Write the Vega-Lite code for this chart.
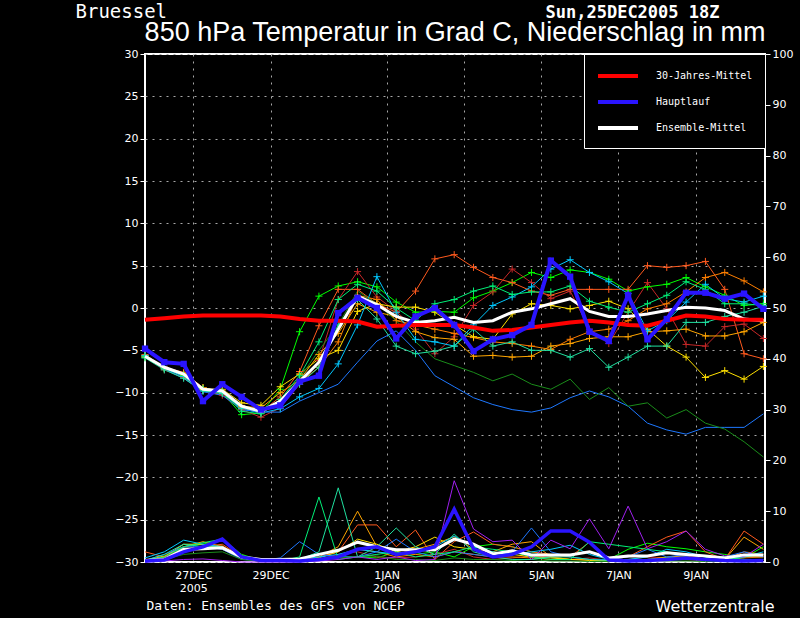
{
  "$schema": "https://vega.github.io/schema/vega-lite/v6.json",
  "width": 620,
  "height": 508,
  "autosize": "none",
  "padding": {"left": 145, "top": 54, "right": 35, "bottom": 56},
  "background": "black",
  "title": {
    "text": "850 hPa Temperatur in Grad C, Niederschlag in mm",
    "anchor": "middle",
    "frame": "group",
    "font": "Liberation Sans",
    "fontSize": 27,
    "fontWeight": "normal",
    "color": "white",
    "baseline": "bottom",
    "offset": 0,
    "dy": 72
  },
  "data": {
    "values": [
      {"s":"30-Jahres-Mittel","h":0,"T":-1.4,"P":null},{"s":"30-Jahres-Mittel","h":12,"T":-1.2,"P":null},{"s":"30-Jahres-Mittel","h":24,"T":-1.0,"P":null},{"s":"30-Jahres-Mittel","h":36,"T":-0.9,"P":null},{"s":"30-Jahres-Mittel","h":48,"T":-0.9,"P":null},{"s":"30-Jahres-Mittel","h":60,"T":-0.9,"P":null},{"s":"30-Jahres-Mittel","h":72,"T":-0.9,"P":null},{"s":"30-Jahres-Mittel","h":84,"T":-1.0,"P":null},{"s":"30-Jahres-Mittel","h":96,"T":-1.3,"P":null},{"s":"30-Jahres-Mittel","h":108,"T":-1.5,"P":null},{"s":"30-Jahres-Mittel","h":120,"T":-1.5,"P":null},{"s":"30-Jahres-Mittel","h":132,"T":-1.6,"P":null},{"s":"30-Jahres-Mittel","h":144,"T":-2.2,"P":null},{"s":"30-Jahres-Mittel","h":156,"T":-2.1,"P":null},{"s":"30-Jahres-Mittel","h":168,"T":-2.0,"P":null},{"s":"30-Jahres-Mittel","h":180,"T":-2.0,"P":null},{"s":"30-Jahres-Mittel","h":192,"T":-2.0,"P":null},{"s":"30-Jahres-Mittel","h":204,"T":-2.3,"P":null},{"s":"30-Jahres-Mittel","h":216,"T":-2.7,"P":null},{"s":"30-Jahres-Mittel","h":228,"T":-2.6,"P":null},{"s":"30-Jahres-Mittel","h":240,"T":-2.3,"P":null},{"s":"30-Jahres-Mittel","h":252,"T":-2.0,"P":null},{"s":"30-Jahres-Mittel","h":264,"T":-1.7,"P":null},{"s":"30-Jahres-Mittel","h":276,"T":-1.5,"P":null},{"s":"30-Jahres-Mittel","h":288,"T":-1.7,"P":null},{"s":"30-Jahres-Mittel","h":300,"T":-2.0,"P":null},{"s":"30-Jahres-Mittel","h":312,"T":-2.1,"P":null},{"s":"30-Jahres-Mittel","h":324,"T":-1.5,"P":null},{"s":"30-Jahres-Mittel","h":336,"T":-0.9,"P":null},{"s":"30-Jahres-Mittel","h":348,"T":-1.0,"P":null},{"s":"30-Jahres-Mittel","h":360,"T":-1.3,"P":null},{"s":"30-Jahres-Mittel","h":372,"T":-1.4,"P":null},{"s":"30-Jahres-Mittel","h":384,"T":-1.4,"P":null},

      {"s":"Ensemble-Mittel","h":0,"T":-5.7,"P":0.3},{"s":"Ensemble-Mittel","h":12,"T":-7.0,"P":0.5},{"s":"Ensemble-Mittel","h":24,"T":-7.8,"P":2.5},{"s":"Ensemble-Mittel","h":36,"T":-9.6,"P":2.6},{"s":"Ensemble-Mittel","h":48,"T":-9.8,"P":2.8},{"s":"Ensemble-Mittel","h":60,"T":-11.6,"P":1.0},{"s":"Ensemble-Mittel","h":72,"T":-12.2,"P":0.5},{"s":"Ensemble-Mittel","h":84,"T":-11.0,"P":0.5},{"s":"Ensemble-Mittel","h":96,"T":-8.7,"P":0.6},{"s":"Ensemble-Mittel","h":108,"T":-6.4,"P":1.5},{"s":"Ensemble-Mittel","h":120,"T":-2.5,"P":2.3},{"s":"Ensemble-Mittel","h":132,"T":1.4,"P":3.9},{"s":"Ensemble-Mittel","h":144,"T":0.4,"P":3.0},{"s":"Ensemble-Mittel","h":156,"T":-1.0,"P":2.4},{"s":"Ensemble-Mittel","h":168,"T":-1.7,"P":2.4},{"s":"Ensemble-Mittel","h":180,"T":-1.5,"P":2.4},{"s":"Ensemble-Mittel","h":192,"T":-1.1,"P":4.5},{"s":"Ensemble-Mittel","h":204,"T":-1.7,"P":3.5},{"s":"Ensemble-Mittel","h":216,"T":-1.5,"P":1.6},{"s":"Ensemble-Mittel","h":228,"T":-0.5,"P":2.2},{"s":"Ensemble-Mittel","h":240,"T":-0.1,"P":1.4},{"s":"Ensemble-Mittel","h":252,"T":0.5,"P":1.4},{"s":"Ensemble-Mittel","h":264,"T":1.1,"P":1.4},{"s":"Ensemble-Mittel","h":276,"T":-0.4,"P":2.0},{"s":"Ensemble-Mittel","h":288,"T":-1.0,"P":0.8},{"s":"Ensemble-Mittel","h":300,"T":-1.0,"P":1.2},{"s":"Ensemble-Mittel","h":312,"T":-0.7,"P":1.2},{"s":"Ensemble-Mittel","h":324,"T":-0.3,"P":1.8},{"s":"Ensemble-Mittel","h":336,"T":0.1,"P":1.5},{"s":"Ensemble-Mittel","h":348,"T":0.0,"P":1.2},{"s":"Ensemble-Mittel","h":360,"T":-0.3,"P":0.8},{"s":"Ensemble-Mittel","h":372,"T":-1.3,"P":1.4},{"s":"Ensemble-Mittel","h":384,"T":-1.5,"P":1.4},

      {"s":"Hauptlauf","h":0,"T":-4.8,"P":0.2},{"s":"Hauptlauf","h":12,"T":-6.4,"P":0.4},{"s":"Hauptlauf","h":24,"T":-6.6,"P":2.0},{"s":"Hauptlauf","h":36,"T":-11.0,"P":3.0},{"s":"Hauptlauf","h":48,"T":-9.0,"P":4.5},{"s":"Hauptlauf","h":60,"T":-10.5,"P":1.0},{"s":"Hauptlauf","h":72,"T":-12.0,"P":0.3},{"s":"Hauptlauf","h":84,"T":-11.5,"P":0.3},{"s":"Hauptlauf","h":96,"T":-8.7,"P":0.2},{"s":"Hauptlauf","h":108,"T":-8.0,"P":0.5},{"s":"Hauptlauf","h":120,"T":-0.6,"P":1.0},{"s":"Hauptlauf","h":132,"T":1.2,"P":2.5},{"s":"Hauptlauf","h":144,"T":0.0,"P":3.0},{"s":"Hauptlauf","h":156,"T":-3.6,"P":1.5},{"s":"Hauptlauf","h":168,"T":-1.0,"P":2.0},{"s":"Hauptlauf","h":180,"T":0.0,"P":3.0},{"s":"Hauptlauf","h":192,"T":-2.0,"P":10.4},{"s":"Hauptlauf","h":204,"T":-5.1,"P":2.6},{"s":"Hauptlauf","h":216,"T":-3.7,"P":1.0},{"s":"Hauptlauf","h":228,"T":-3.2,"P":1.5},{"s":"Hauptlauf","h":240,"T":-2.0,"P":3.0},{"s":"Hauptlauf","h":252,"T":5.6,"P":6.1},{"s":"Hauptlauf","h":264,"T":3.7,"P":6.1},{"s":"Hauptlauf","h":276,"T":-2.8,"P":3.9},{"s":"Hauptlauf","h":288,"T":-3.9,"P":0.4},{"s":"Hauptlauf","h":300,"T":1.5,"P":0.2},{"s":"Hauptlauf","h":312,"T":-3.7,"P":0.3},{"s":"Hauptlauf","h":324,"T":-1.3,"P":0.5},{"s":"Hauptlauf","h":336,"T":1.8,"P":0.8},{"s":"Hauptlauf","h":348,"T":1.8,"P":0.5},{"s":"Hauptlauf","h":360,"T":1.1,"P":0.3},{"s":"Hauptlauf","h":372,"T":1.7,"P":0.2},{"s":"Hauptlauf","h":384,"T":-0.1,"P":0.3},

      {"s":"P01","h":0,"T":-5.8,"P":0.2},{"s":"P01","h":12,"T":-7.2,"P":1.0},{"s":"P01","h":24,"T":-8.0,"P":3.0},{"s":"P01","h":36,"T":-9.4,"P":3.5},{"s":"P01","h":48,"T":-10.0,"P":4.5},{"s":"P01","h":60,"T":-12.6,"P":1.5},{"s":"P01","h":72,"T":-12.4,"P":0.3},{"s":"P01","h":84,"T":-9.6,"P":0.2},{"s":"P01","h":96,"T":-2.8,"P":0.3},{"s":"P01","h":108,"T":1.4,"P":0.5},{"s":"P01","h":120,"T":2.6,"P":1.0},{"s":"P01","h":132,"T":3.1,"P":1.0},{"s":"P01","h":144,"T":2.5,"P":0.8},{"s":"P01","h":156,"T":0.7,"P":2.0},{"s":"P01","h":168,"T":-0.5,"P":1.5},{"s":"P01","h":180,"T":-0.4,"P":2.0},{"s":"P01","h":192,"T":-0.5,"P":1.0},{"s":"P01","h":204,"T":1.2,"P":3.0},{"s":"P01","h":216,"T":2.0,"P":3.5},{"s":"P01","h":228,"T":3.0,"P":3.0},{"s":"P01","h":240,"T":4.2,"P":2.0},{"s":"P01","h":252,"T":3.6,"P":1.0},{"s":"P01","h":264,"T":4.5,"P":0.5},{"s":"P01","h":276,"T":4.2,"P":0.5},{"s":"P01","h":288,"T":3.4,"P":0.5},{"s":"P01","h":300,"T":2.0,"P":2.5},{"s":"P01","h":312,"T":2.5,"P":3.7},{"s":"P01","h":324,"T":2.8,"P":3.0},{"s":"P01","h":336,"T":3.6,"P":2.6},{"s":"P01","h":348,"T":2.5,"P":2.0},{"s":"P01","h":360,"T":1.5,"P":1.5},{"s":"P01","h":372,"T":0.3,"P":0.8},{"s":"P01","h":384,"T":0.5,"P":3.0},

      {"s":"P02","h":0,"T":-5.5,"P":2.0},{"s":"P02","h":12,"T":-7.0,"P":1.0},{"s":"P02","h":24,"T":-7.6,"P":2.5},{"s":"P02","h":36,"T":-9.4,"P":3.0},{"s":"P02","h":48,"T":-10.0,"P":3.5},{"s":"P02","h":60,"T":-11.5,"P":1.0},{"s":"P02","h":72,"T":-12.3,"P":0.2},{"s":"P02","h":84,"T":-10.5,"P":0.2},{"s":"P02","h":96,"T":-7.5,"P":0.3},{"s":"P02","h":108,"T":-2.1,"P":1.0},{"s":"P02","h":120,"T":2.2,"P":2.0},{"s":"P02","h":132,"T":2.2,"P":7.3},{"s":"P02","h":144,"T":0.5,"P":7.3},{"s":"P02","h":156,"T":-0.5,"P":3.0},{"s":"P02","h":168,"T":2.0,"P":6.3},{"s":"P02","h":180,"T":5.8,"P":0.5},{"s":"P02","h":192,"T":6.3,"P":4.0},{"s":"P02","h":204,"T":4.8,"P":5.9},{"s":"P02","h":216,"T":3.6,"P":3.5},{"s":"P02","h":228,"T":3.0,"P":3.0},{"s":"P02","h":240,"T":2.0,"P":2.0},{"s":"P02","h":252,"T":1.5,"P":1.5},{"s":"P02","h":264,"T":2.2,"P":1.0},{"s":"P02","h":276,"T":2.2,"P":3.9},{"s":"P02","h":288,"T":2.2,"P":0.5},{"s":"P02","h":300,"T":2.2,"P":1.0},{"s":"P02","h":312,"T":5.0,"P":3.0},{"s":"P02","h":324,"T":4.8,"P":4.9},{"s":"P02","h":336,"T":5.0,"P":6.1},{"s":"P02","h":348,"T":5.5,"P":2.0},{"s":"P02","h":360,"T":2.2,"P":0.5},{"s":"P02","h":372,"T":-5.4,"P":6.1},{"s":"P02","h":384,"T":-6.0,"P":3.5},

      {"s":"P03","h":0,"T":-5.6,"P":0.5},{"s":"P03","h":12,"T":-7.3,"P":0.8},{"s":"P03","h":24,"T":-8.2,"P":2.5},{"s":"P03","h":36,"T":-9.7,"P":3.0},{"s":"P03","h":48,"T":-10.3,"P":3.0},{"s":"P03","h":60,"T":-12.0,"P":0.8},{"s":"P03","h":72,"T":-12.9,"P":0.2},{"s":"P03","h":84,"T":-11.8,"P":0.1},{"s":"P03","h":96,"T":-9.0,"P":0.2},{"s":"P03","h":108,"T":-6.2,"P":0.5},{"s":"P03","h":120,"T":1.0,"P":1.5},{"s":"P03","h":132,"T":4.3,"P":2.0},{"s":"P03","h":144,"T":1.3,"P":1.0},{"s":"P03","h":156,"T":-0.4,"P":0.8},{"s":"P03","h":168,"T":-2.5,"P":1.0},{"s":"P03","h":180,"T":-5.4,"P":1.5},{"s":"P03","h":192,"T":-3.4,"P":2.5},{"s":"P03","h":204,"T":0.3,"P":1.0},{"s":"P03","h":216,"T":1.9,"P":0.5},{"s":"P03","h":228,"T":4.6,"P":0.8},{"s":"P03","h":240,"T":3.0,"P":1.2},{"s":"P03","h":252,"T":1.1,"P":1.0},{"s":"P03","h":264,"T":2.0,"P":0.5},{"s":"P03","h":276,"T":-2.5,"P":0.8},{"s":"P03","h":288,"T":-4.2,"P":0.3},{"s":"P03","h":300,"T":-0.5,"P":0.5},{"s":"P03","h":312,"T":3.0,"P":1.0},{"s":"P03","h":324,"T":-0.1,"P":0.8},{"s":"P03","h":336,"T":-4.3,"P":1.5},{"s":"P03","h":348,"T":-4.5,"P":0.5},{"s":"P03","h":360,"T":-2.2,"P":0.3},{"s":"P03","h":372,"T":-1.9,"P":0.8},{"s":"P03","h":384,"T":-3.6,"P":1.0},

      {"s":"P04","h":0,"T":-5.6,"P":0.3},{"s":"P04","h":12,"T":-7.1,"P":1.2},{"s":"P04","h":24,"T":-7.9,"P":3.0},{"s":"P04","h":36,"T":-9.5,"P":4.0},{"s":"P04","h":48,"T":-9.8,"P":3.0},{"s":"P04","h":60,"T":-11.6,"P":1.0},{"s":"P04","h":72,"T":-11.8,"P":0.2},{"s":"P04","h":84,"T":-10.0,"P":0.2},{"s":"P04","h":96,"T":-8.5,"P":0.3},{"s":"P04","h":108,"T":-5.5,"P":1.0},{"s":"P04","h":120,"T":-3.0,"P":3.0},{"s":"P04","h":132,"T":0.5,"P":10.0},{"s":"P04","h":144,"T":-0.5,"P":3.0},{"s":"P04","h":156,"T":-1.0,"P":1.5},{"s":"P04","h":168,"T":-2.8,"P":2.5},{"s":"P04","h":180,"T":-3.5,"P":3.5},{"s":"P04","h":192,"T":-3.7,"P":5.0},{"s":"P04","h":204,"T":-5.7,"P":2.5},{"s":"P04","h":216,"T":-5.6,"P":2.0},{"s":"P04","h":228,"T":-5.8,"P":3.5},{"s":"P04","h":240,"T":-5.7,"P":4.0},{"s":"P04","h":252,"T":-4.5,"P":1.0},{"s":"P04","h":264,"T":-4.2,"P":0.5},{"s":"P04","h":276,"T":-3.6,"P":0.5},{"s":"P04","h":288,"T":-3.4,"P":0.2},{"s":"P04","h":300,"T":-3.4,"P":0.3},{"s":"P04","h":312,"T":-2.8,"P":0.5},{"s":"P04","h":324,"T":-2.7,"P":1.0},{"s":"P04","h":336,"T":-2.5,"P":1.2},{"s":"P04","h":348,"T":-3.3,"P":0.5},{"s":"P04","h":360,"T":-3.3,"P":0.5},{"s":"P04","h":372,"T":-2.8,"P":4.9},{"s":"P04","h":384,"T":-1.7,"P":2.5},

      {"s":"P05","h":0,"T":-5.7,"P":0.2},{"s":"P05","h":12,"T":-7.0,"P":0.6},{"s":"P05","h":24,"T":-7.7,"P":2.2},{"s":"P05","h":36,"T":-9.4,"P":2.8},{"s":"P05","h":48,"T":-9.9,"P":3.2},{"s":"P05","h":60,"T":-11.8,"P":0.8},{"s":"P05","h":72,"T":-12.4,"P":0.1},{"s":"P05","h":84,"T":-11.2,"P":0.1},{"s":"P05","h":96,"T":-8.8,"P":0.2},{"s":"P05","h":108,"T":-7.0,"P":0.5},{"s":"P05","h":120,"T":-4.0,"P":1.2},{"s":"P05","h":132,"T":1.5,"P":2.5},{"s":"P05","h":144,"T":1.0,"P":2.0},{"s":"P05","h":156,"T":-1.5,"P":1.0},{"s":"P05","h":168,"T":-2.0,"P":1.5},{"s":"P05","h":180,"T":-2.5,"P":1.0},{"s":"P05","h":192,"T":-3.0,"P":2.0},{"s":"P05","h":204,"T":-3.5,"P":1.5},{"s":"P05","h":216,"T":-4.0,"P":1.0},{"s":"P05","h":228,"T":-4.2,"P":1.0},{"s":"P05","h":240,"T":-4.5,"P":0.8},{"s":"P05","h":252,"T":-4.9,"P":0.5},{"s":"P05","h":264,"T":-3.7,"P":0.5},{"s":"P05","h":276,"T":-2.8,"P":0.5},{"s":"P05","h":288,"T":-2.5,"P":0.2},{"s":"P05","h":300,"T":-1.5,"P":0.3},{"s":"P05","h":312,"T":-0.1,"P":0.3},{"s":"P05","h":324,"T":0.5,"P":0.5},{"s":"P05","h":336,"T":1.9,"P":0.5},{"s":"P05","h":348,"T":3.6,"P":0.3},{"s":"P05","h":360,"T":4.2,"P":0.5},{"s":"P05","h":372,"T":3.2,"P":2.0},{"s":"P05","h":384,"T":1.9,"P":1.5},

      {"s":"P06","h":0,"T":-5.8,"P":0.3},{"s":"P06","h":12,"T":-7.1,"P":1.0},{"s":"P06","h":24,"T":-7.8,"P":3.5},{"s":"P06","h":36,"T":-9.6,"P":3.5},{"s":"P06","h":48,"T":-9.6,"P":2.5},{"s":"P06","h":60,"T":-11.2,"P":0.8},{"s":"P06","h":72,"T":-11.5,"P":0.2},{"s":"P06","h":84,"T":-9.3,"P":0.1},{"s":"P06","h":96,"T":-7.8,"P":0.3},{"s":"P06","h":108,"T":-6.0,"P":0.8},{"s":"P06","h":120,"T":-5.0,"P":2.0},{"s":"P06","h":132,"T":-0.4,"P":4.5},{"s":"P06","h":144,"T":0.5,"P":3.5},{"s":"P06","h":156,"T":0.1,"P":2.0},{"s":"P06","h":168,"T":0.1,"P":3.0},{"s":"P06","h":180,"T":-0.5,"P":4.9},{"s":"P06","h":192,"T":-2.0,"P":3.0},{"s":"P06","h":204,"T":-3.4,"P":2.5},{"s":"P06","h":216,"T":-3.7,"P":2.0},{"s":"P06","h":228,"T":-0.7,"P":1.5},{"s":"P06","h":240,"T":0.5,"P":1.0},{"s":"P06","h":252,"T":0.3,"P":0.8},{"s":"P06","h":264,"T":-0.1,"P":0.5},{"s":"P06","h":276,"T":0.3,"P":0.3},{"s":"P06","h":288,"T":0.8,"P":0.2},{"s":"P06","h":300,"T":-0.1,"P":0.3},{"s":"P06","h":312,"T":-2.5,"P":0.5},{"s":"P06","h":324,"T":-4.5,"P":0.5},{"s":"P06","h":336,"T":-5.8,"P":1.0},{"s":"P06","h":348,"T":-8.2,"P":0.5},{"s":"P06","h":360,"T":-7.4,"P":0.3},{"s":"P06","h":372,"T":-8.4,"P":1.0},{"s":"P06","h":384,"T":-6.9,"P":1.0},

      {"s":"P07","h":0,"T":-5.6,"P":0.8},{"s":"P07","h":12,"T":-7.1,"P":2.0},{"s":"P07","h":24,"T":-8.1,"P":4.3},{"s":"P07","h":36,"T":-9.8,"P":3.5},{"s":"P07","h":48,"T":-10.0,"P":3.0},{"s":"P07","h":60,"T":-11.9,"P":1.0},{"s":"P07","h":72,"T":-12.4,"P":0.3},{"s":"P07","h":84,"T":-11.9,"P":0.2},{"s":"P07","h":96,"T":-10.5,"P":0.5},{"s":"P07","h":108,"T":-9.5,"P":1.0},{"s":"P07","h":120,"T":-6.6,"P":1.5},{"s":"P07","h":132,"T":-2.0,"P":2.5},{"s":"P07","h":144,"T":3.7,"P":2.0},{"s":"P07","h":156,"T":-0.5,"P":1.5},{"s":"P07","h":168,"T":-3.7,"P":2.0},{"s":"P07","h":180,"T":-4.0,"P":3.0},{"s":"P07","h":192,"T":-4.5,"P":5.1},{"s":"P07","h":204,"T":-2.0,"P":3.0},{"s":"P07","h":216,"T":0.3,"P":2.0},{"s":"P07","h":228,"T":1.3,"P":1.5},{"s":"P07","h":240,"T":2.5,"P":2.0},{"s":"P07","h":252,"T":4.6,"P":2.5},{"s":"P07","h":264,"T":5.7,"P":3.3},{"s":"P07","h":276,"T":4.2,"P":1.5},{"s":"P07","h":288,"T":3.1,"P":0.5},{"s":"P07","h":300,"T":1.7,"P":0.5},{"s":"P07","h":312,"T":-2.7,"P":1.0},{"s":"P07","h":324,"T":-1.5,"P":2.5},{"s":"P07","h":336,"T":0.7,"P":2.0},{"s":"P07","h":348,"T":2.8,"P":1.0},{"s":"P07","h":360,"T":1.1,"P":0.8},{"s":"P07","h":372,"T":0.7,"P":1.0},{"s":"P07","h":384,"T":1.4,"P":2.0},

      {"s":"P08","h":0,"T":-5.7,"P":0.3},{"s":"P08","h":12,"T":-7.2,"P":1.5},{"s":"P08","h":24,"T":-8.3,"P":3.0},{"s":"P08","h":36,"T":-9.9,"P":3.0},{"s":"P08","h":48,"T":-10.3,"P":2.5},{"s":"P08","h":60,"T":-12.0,"P":0.5},{"s":"P08","h":72,"T":-12.3,"P":0.3},{"s":"P08","h":84,"T":-12.3,"P":0.8},{"s":"P08","h":96,"T":-11.0,"P":4.0},{"s":"P08","h":108,"T":-10.0,"P":1.5},{"s":"P08","h":120,"T":-9.0,"P":1.0},{"s":"P08","h":132,"T":-6.4,"P":1.0},{"s":"P08","h":144,"T":-3.9,"P":2.0},{"s":"P08","h":156,"T":-2.7,"P":4.5},{"s":"P08","h":168,"T":-5.0,"P":2.0},{"s":"P08","h":180,"T":-8.0,"P":1.0},{"s":"P08","h":192,"T":-9.3,"P":2.0},{"s":"P08","h":204,"T":-10.6,"P":1.5},{"s":"P08","h":216,"T":-11.4,"P":1.0},{"s":"P08","h":228,"T":-12.0,"P":2.0},{"s":"P08","h":240,"T":-12.3,"P":6.7},{"s":"P08","h":252,"T":-11.8,"P":2.0},{"s":"P08","h":264,"T":-10.6,"P":1.0},{"s":"P08","h":276,"T":-9.8,"P":0.5},{"s":"P08","h":288,"T":-10.5,"P":0.5},{"s":"P08","h":300,"T":-11.6,"P":1.0},{"s":"P08","h":312,"T":-13.6,"P":2.5},{"s":"P08","h":324,"T":-14.4,"P":1.0},{"s":"P08","h":336,"T":-14.9,"P":1.5},{"s":"P08","h":348,"T":-14.1,"P":1.0},{"s":"P08","h":360,"T":-14.1,"P":1.0},{"s":"P08","h":372,"T":-14.1,"P":2.0},{"s":"P08","h":384,"T":-12.5,"P":1.0},

      {"s":"P09","h":0,"T":-5.6,"P":0.1},{"s":"P09","h":12,"T":-7.0,"P":0.5},{"s":"P09","h":24,"T":-7.8,"P":1.5},{"s":"P09","h":36,"T":-9.7,"P":1.8},{"s":"P09","h":48,"T":-9.9,"P":2.0},{"s":"P09","h":60,"T":-11.7,"P":0.5},{"s":"P09","h":72,"T":-12.0,"P":0.1},{"s":"P09","h":84,"T":-11.0,"P":0.1},{"s":"P09","h":96,"T":-8.3,"P":0.2},{"s":"P09","h":108,"T":-5.0,"P":0.5},{"s":"P09","h":120,"T":-2.0,"P":0.8},{"s":"P09","h":132,"T":2.0,"P":1.0},{"s":"P09","h":144,"T":0.5,"P":1.2},{"s":"P09","h":156,"T":-1.5,"P":0.5},{"s":"P09","h":168,"T":-4.0,"P":0.5},{"s":"P09","h":180,"T":-6.0,"P":0.3},{"s":"P09","h":192,"T":-6.8,"P":0.8},{"s":"P09","h":204,"T":-7.6,"P":0.5},{"s":"P09","h":216,"T":-8.6,"P":0.5},{"s":"P09","h":228,"T":-7.8,"P":0.3},{"s":"P09","h":240,"T":-9.0,"P":0.5},{"s":"P09","h":252,"T":-9.6,"P":0.2},{"s":"P09","h":264,"T":-8.4,"P":0.2},{"s":"P09","h":276,"T":-10.8,"P":0.1},{"s":"P09","h":288,"T":-9.4,"P":0.1},{"s":"P09","h":300,"T":-11.6,"P":0.2},{"s":"P09","h":312,"T":-11.2,"P":0.3},{"s":"P09","h":324,"T":-13.0,"P":0.2},{"s":"P09","h":336,"T":-12.0,"P":0.2},{"s":"P09","h":348,"T":-13.6,"P":0.1},{"s":"P09","h":360,"T":-14.3,"P":0.1},{"s":"P09","h":372,"T":-15.8,"P":0.3},{"s":"P09","h":384,"T":-17.6,"P":0.5},

      {"s":"P10","h":0,"T":-5.7,"P":0.2},{"s":"P10","h":12,"T":-7.1,"P":1.0},{"s":"P10","h":24,"T":-7.9,"P":3.0},{"s":"P10","h":36,"T":-9.5,"P":3.8},{"s":"P10","h":48,"T":-9.9,"P":4.5},{"s":"P10","h":60,"T":-12.2,"P":1.2},{"s":"P10","h":72,"T":-12.5,"P":0.2},{"s":"P10","h":84,"T":-10.8,"P":0.2},{"s":"P10","h":96,"T":-8.0,"P":1.0},{"s":"P10","h":108,"T":-4.0,"P":12.8},{"s":"P10","h":120,"T":1.0,"P":0.5},{"s":"P10","h":132,"T":2.8,"P":1.0},{"s":"P10","h":144,"T":2.0,"P":1.5},{"s":"P10","h":156,"T":0.0,"P":2.0},{"s":"P10","h":168,"T":-1.5,"P":1.0},{"s":"P10","h":180,"T":0.5,"P":1.5},{"s":"P10","h":192,"T":1.0,"P":2.0},{"s":"P10","h":204,"T":2.0,"P":3.0},{"s":"P10","h":216,"T":2.6,"P":2.5},{"s":"P10","h":228,"T":1.6,"P":2.0},{"s":"P10","h":240,"T":1.9,"P":1.0},{"s":"P10","h":252,"T":1.9,"P":0.5},{"s":"P10","h":264,"T":2.6,"P":0.5},{"s":"P10","h":276,"T":0.8,"P":4.0},{"s":"P10","h":288,"T":0.1,"P":3.5},{"s":"P10","h":300,"T":-0.5,"P":3.0},{"s":"P10","h":312,"T":0.5,"P":2.5},{"s":"P10","h":324,"T":1.5,"P":2.0},{"s":"P10","h":336,"T":3.1,"P":1.5},{"s":"P10","h":348,"T":2.2,"P":1.0},{"s":"P10","h":360,"T":0.5,"P":1.0},{"s":"P10","h":372,"T":0.5,"P":0.5},{"s":"P10","h":384,"T":0.3,"P":0.5},

      {"s":"P11","h":0,"T":-5.9,"P":0.3},{"s":"P11","h":12,"T":-7.3,"P":1.5},{"s":"P11","h":24,"T":-8.3,"P":3.5},{"s":"P11","h":36,"T":-9.8,"P":3.0},{"s":"P11","h":48,"T":-10.1,"P":3.0},{"s":"P11","h":60,"T":-11.8,"P":0.8},{"s":"P11","h":72,"T":-12.2,"P":0.2},{"s":"P11","h":84,"T":-11.3,"P":0.2},{"s":"P11","h":96,"T":-9.0,"P":0.5},{"s":"P11","h":108,"T":-7.0,"P":2.0},{"s":"P11","h":120,"T":-2.0,"P":14.6},{"s":"P11","h":132,"T":1.0,"P":1.0},{"s":"P11","h":144,"T":-1.3,"P":3.0},{"s":"P11","h":156,"T":-4.5,"P":6.7},{"s":"P11","h":168,"T":-5.4,"P":3.0},{"s":"P11","h":180,"T":-5.1,"P":1.5},{"s":"P11","h":192,"T":-4.5,"P":5.5},{"s":"P11","h":204,"T":-2.5,"P":2.0},{"s":"P11","h":216,"T":-4.5,"P":1.0},{"s":"P11","h":228,"T":-4.0,"P":0.5},{"s":"P11","h":240,"T":-5.0,"P":0.5},{"s":"P11","h":252,"T":-5.0,"P":1.0},{"s":"P11","h":264,"T":-5.8,"P":1.0},{"s":"P11","h":276,"T":-4.8,"P":0.5},{"s":"P11","h":288,"T":-7.0,"P":0.3},{"s":"P11","h":300,"T":-5.8,"P":0.5},{"s":"P11","h":312,"T":-4.5,"P":0.5},{"s":"P11","h":324,"T":-4.5,"P":0.8},{"s":"P11","h":336,"T":-1.7,"P":1.0},{"s":"P11","h":348,"T":-1.7,"P":0.5},{"s":"P11","h":360,"T":-1.0,"P":0.5},{"s":"P11","h":372,"T":-0.5,"P":1.0},{"s":"P11","h":384,"T":0.2,"P":1.5},

      {"s":"P12","h":0,"T":null,"P":0.0},{"s":"P12","h":12,"T":null,"P":0.2},{"s":"P12","h":24,"T":null,"P":0.5},{"s":"P12","h":36,"T":null,"P":0.6},{"s":"P12","h":48,"T":null,"P":0.3},{"s":"P12","h":60,"T":null,"P":0.0},{"s":"P12","h":72,"T":null,"P":0.0},{"s":"P12","h":84,"T":null,"P":0.0},{"s":"P12","h":96,"T":null,"P":0.0},{"s":"P12","h":108,"T":null,"P":0.2},{"s":"P12","h":120,"T":null,"P":0.5},{"s":"P12","h":132,"T":null,"P":1.0},{"s":"P12","h":144,"T":null,"P":0.5},{"s":"P12","h":156,"T":null,"P":1.0},{"s":"P12","h":168,"T":null,"P":0.3},{"s":"P12","h":180,"T":null,"P":0.5},{"s":"P12","h":192,"T":null,"P":16.0},{"s":"P12","h":204,"T":null,"P":6.5},{"s":"P12","h":216,"T":null,"P":4.0},{"s":"P12","h":228,"T":null,"P":4.3},{"s":"P12","h":240,"T":null,"P":0.5},{"s":"P12","h":252,"T":null,"P":4.3},{"s":"P12","h":264,"T":null,"P":2.6},{"s":"P12","h":276,"T":null,"P":8.5},{"s":"P12","h":288,"T":null,"P":2.6},{"s":"P12","h":300,"T":null,"P":11.0},{"s":"P12","h":312,"T":null,"P":2.6},{"s":"P12","h":324,"T":null,"P":4.0},{"s":"P12","h":336,"T":null,"P":6.1},{"s":"P12","h":348,"T":null,"P":2.5},{"s":"P12","h":360,"T":null,"P":1.2},{"s":"P12","h":372,"T":null,"P":1.0},{"s":"P12","h":384,"T":null,"P":3.5}
    ]
  },
  "layer": [
    {
      "transform": [{"filter": "isValid(datum.T)"}],
      "encoding": {
        "x": {
          "field": "h",
          "type": "quantitative",
          "scale": {"domain": [0, 385], "nice": false},
          "axis": {
            "values": [30, 78, 150, 198, 246, 294, 342],
            "labelExpr": "(datum.value == 30 || datum.value == 150) ? [upper(utcFormat(utc(2005,11,25,18) + datum.value * 3600000, '%-d%b')), utcFormat(utc(2005,11,25,18) + datum.value * 3600000, '%Y')] : upper(utcFormat(utc(2005,11,25,18) + datum.value * 3600000, '%-d%b'))",
            "grid": true,
            "ticks": false,
            "domain": false,
            "labelPadding": 7,
            "labelLineHeight": 13,
            "title": "Daten: Ensembles des GFS von NCEP",
            "titleFont": "DejaVu Sans Mono",
            "titleX": 1,
            "titleY": 37,
            "titleAlign": "left",
            "titleBaseline": "top",
            "titleFontSize": 13
          }
        },
        "y": {
          "field": "T",
          "type": "quantitative",
          "scale": {"domain": [-30, 30], "nice": false},
          "axis": {
            "orient": "left",
            "values": [-30, -25, -20, -15, -10, -5, 0, 5, 10, 15, 20, 25, 30],
            "grid": true,
            "title": "Bruessel",
            "titleFont": "DejaVu Sans Mono",
            "titleAngle": 0,
            "titleX": -70,
            "titleY": -52,
            "titleAlign": "left",
            "titleBaseline": "top",
            "titleFontSize": 19
          }
        },
        "color": {
          "field": "s",
          "type": "nominal",
          "scale": {
            "domain": ["30-Jahres-Mittel", "Hauptlauf", "Ensemble-Mittel", "P01", "P02", "P03", "P04", "P05", "P06", "P07", "P08", "P09", "P10", "P11", "P12"],
            "range": ["#ff0000", "#2a14ff", "#ffffff", "#00ff00", "#ff5a1e", "#c82828", "#ffa500", "#ff7f00", "#ffe000", "#00c8ff", "#1e78ff", "#1a8c1a", "#00f078", "#20e0a0", "#a020f0"]
          },
          "legend": {
            "values": ["30-Jahres-Mittel", "Hauptlauf", "Ensemble-Mittel"],
            "title": null,
            "orient": "top-right",
            "offset": 0,
            "padding": 12,
            "rowPadding": 8,
            "fillColor": "black",
            "strokeColor": "white",
            "symbolType": "M-1,0H4",
            "symbolSize": 256,
            "symbolStrokeWidth": 4,
            "symbolOpacity": 1,
            "labelOffset": 40,
            "labelColor": "white",
            "labelFont": "DejaVu Sans Mono",
            "labelFontSize": 10
          }
        }
      },
      "layer": [
        {
          "transform": [{"filter": "indexof(datum.s, 'P') == 0"}],
          "mark": {"type": "line", "strokeWidth": 1}
        },
        {
          "transform": [{"filter": "indexof(datum.s, 'P') == 0 && datum.s != 'P08' && datum.s != 'P09'"}],
          "mark": {"type": "point", "shape": "M-1,0H1M0,-1V1", "filled": false, "size": 50, "strokeWidth": 1, "opacity": 1}
        },
        {
          "transform": [{"filter": "datum.s == 'Ensemble-Mittel'"}],
          "mark": {"type": "line", "strokeWidth": 3}
        },
        {
          "transform": [{"filter": "datum.s == '30-Jahres-Mittel'"}],
          "mark": {"type": "line", "strokeWidth": 4}
        },
        {
          "transform": [{"filter": "datum.s == 'Hauptlauf'"}],
          "mark": {"type": "line", "strokeWidth": 4}
        },
        {
          "transform": [{"filter": "datum.s == 'Hauptlauf'"}],
          "mark": {"type": "square", "size": 40, "filled": true, "opacity": 1}
        }
      ]
    },
    {
      "transform": [{"filter": "isValid(datum.P)"}],
      "encoding": {
        "x": {
          "field": "h",
          "type": "quantitative",
          "scale": {"domain": [0, 385], "nice": false},
          "axis": {
            "orient": "bottom",
            "labels": false,
            "ticks": false,
            "domain": false,
            "grid": false,
            "title": "Wetterzentrale",
            "titleX": 510,
            "titleY": 36,
            "titleAlign": "left",
            "titleBaseline": "top",
            "titleFontSize": 16
          }
        },
        "y": {
          "field": "P",
          "type": "quantitative",
          "scale": {"domain": [0, 100], "nice": false},
          "axis": {
            "orient": "right",
            "values": [0, 10, 20, 30, 40, 50, 60, 70, 80, 90, 100],
            "grid": false,
            "title": "Sun,25DEC2005 18Z",
            "titleFont": "DejaVu Sans Mono",
            "titleAngle": 0,
            "titleX": -220,
            "titleY": -50,
            "titleAlign": "left",
            "titleBaseline": "top",
            "titleFontSize": 17,
            "titleFontWeight": "bold"
          }
        },
        "color": {"field": "s", "type": "nominal"}
      },
      "layer": [
        {
          "transform": [{"filter": "indexof(datum.s, 'P') == 0"}],
          "mark": {"type": "line", "strokeWidth": 1}
        },
        {
          "transform": [{"filter": "datum.s == 'Ensemble-Mittel'"}],
          "mark": {"type": "line", "strokeWidth": 3}
        },
        {
          "transform": [{"filter": "datum.s == 'Hauptlauf'"}],
          "mark": {"type": "line", "strokeWidth": 3.5}
        }
      ]
    }
  ],
  "resolve": {
    "scale": {"y": "independent"},
    "axis": {"x": "independent", "y": "independent"}
  },
  "config": {
    "view": {"stroke": "white", "strokeWidth": 2},
    "font": "DejaVu Sans",
    "axis": {
      "labelColor": "white",
      "labelFont": "DejaVu Sans",
      "labelFontSize": 11,
      "tickColor": "white",
      "tickSize": 5,
      "labelPadding": 2,
      "domain": false,
      "gridColor": "#a8a8a8",
      "gridDash": [2, 5],
      "gridWidth": 1,
      "titleColor": "white",
      "titleFont": "DejaVu Sans",
      "titleFontWeight": "normal"
    }
  }
}
